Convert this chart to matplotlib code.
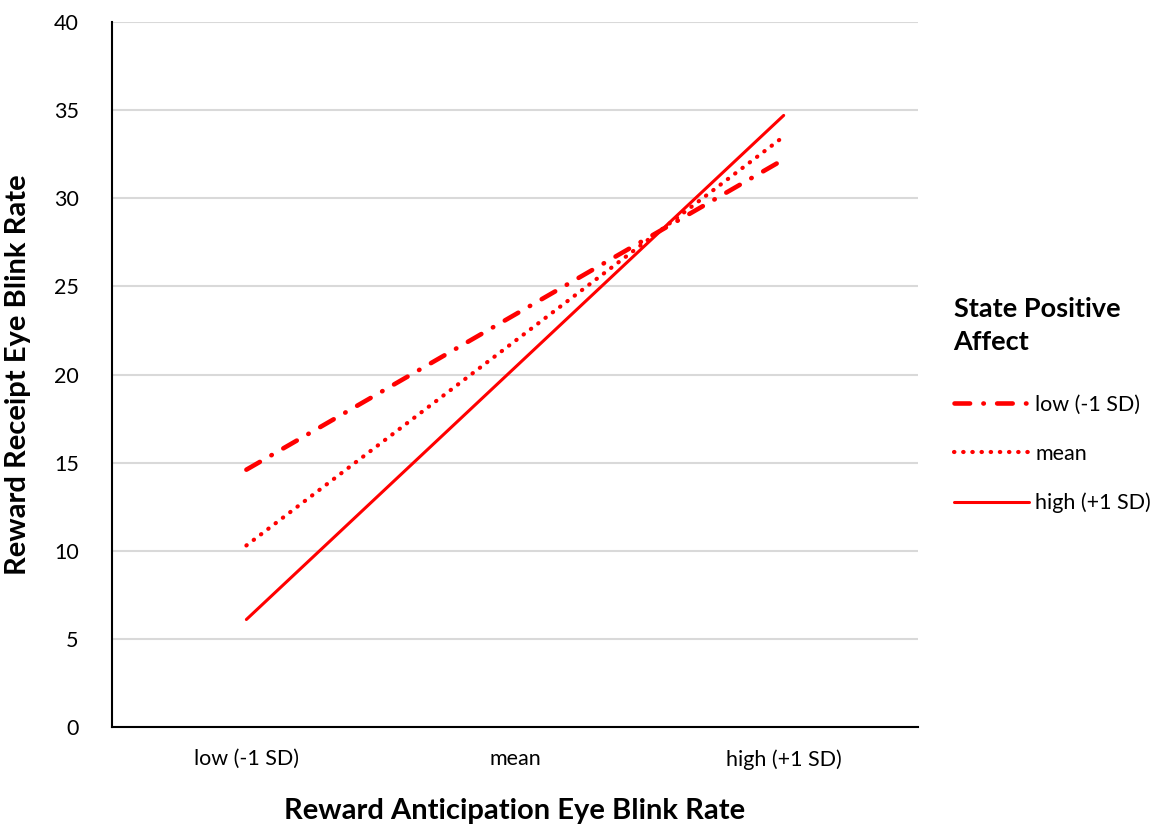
import numpy as np
import matplotlib.pyplot as plt

plt.rcParams['font.family'] = ['Lato', 'DejaVu Sans']

categories = ['low (-1 SD)', 'mean', 'high (+1 SD)']
low_pa = [14.6, 23.4, 32.2]
mean_pa = [10.3, 21.9, 33.5]
high_pa = [6.1, 20.4, 34.7]
series_names = ['low (-1 SD)', 'mean', 'high (+1 SD)']

red = '#ff0000'
x = np.arange(len(categories))

fig = plt.figure(figsize=(11.54, 8.24), dpi=100)
ax = fig.add_axes([0.0971, 0.1177, 0.6984, 0.8556])

ax.plot(x, low_pa, color=red, lw=3.3, dashes=(3.4, 2.9, 0.1, 2.9), dash_capstyle='round',
        label=series_names[0])
ax.plot(x, mean_pa, color=red, lw=3.0, dashes=(0.1, 2.1), dash_capstyle='round',
        label=series_names[1])
ax.plot(x, high_pa, color=red, lw=2.2, solid_capstyle='round', label=series_names[2])

ax.set_xlim(-0.5, 2.5)
ax.set_ylim(0, 40)
ax.set_yticks(np.arange(0, 41, 5))
ax.set_xticks(x)
ax.set_xticklabels(categories)
ax.tick_params(axis='both', length=0, labelsize=15.5)
ax.tick_params(axis='y', pad=24)
ax.tick_params(axis='x', pad=16)
ax.grid(axis='y', color='#d9d9d9', lw=1.5)
ax.set_axisbelow(True)
for s in ['top', 'right']:
    ax.spines[s].set_visible(False)
for s in ['left', 'bottom']:
    ax.spines[s].set_linewidth(1.5)
    ax.spines[s].set_color('black')

ax.set_xlabel('Reward Anticipation Eye Blink Rate', fontsize=21, fontweight='bold', labelpad=20)
ax.set_ylabel('Reward Receipt Eye Blink Rate', fontsize=21, fontweight='bold', labelpad=16)

leg = ax.legend(title='State Positive\nAffect', loc='upper left', bbox_to_anchor=(1.02, 0.637),
                frameon=False, fontsize=15.5, handlelength=3.5, labelspacing=1.35,
                handletextpad=0.3, alignment='left')
leg.get_title().set_fontsize(19.5)
leg.get_title().set_fontweight('bold')
leg.get_title().set_linespacing(1.45)
leg._legend_box.sep = 29

fig.savefig('out.png', dpi=100)
